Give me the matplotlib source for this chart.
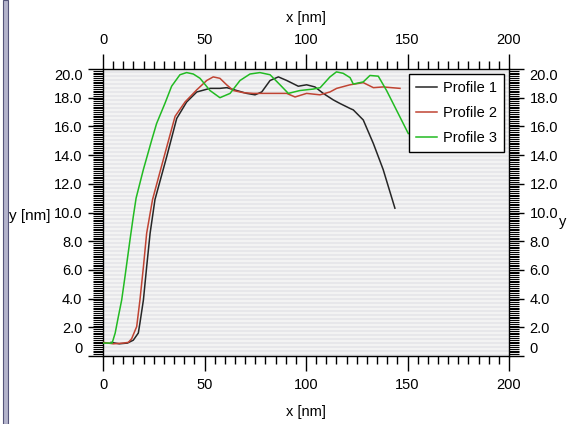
import matplotlib
matplotlib.use('Agg')
import matplotlib.pyplot as plt
import numpy as np
from matplotlib.ticker import MultipleLocator, FuncFormatter
from matplotlib.patches import Rectangle
from matplotlib.colors import ListedColormap

plt.rcParams['font.family'] = ['Liberation Sans', 'DejaVu Sans']

# Profile 1 (black)
p1_x = [4, 8, 12, 14.9, 17.4, 18.2, 19.9, 21.5, 23.2, 25.6, 31.4, 36.3, 41.2, 46.2,
        52.7, 57.6, 61, 65.9, 70.8, 74.9, 78.2, 82.3, 86.4, 90.5, 96.2, 100.3, 104.4,
        108.5, 113.4, 116.7, 121.7, 123.3, 128.2, 133.2, 138, 143.8]
p1_y = [0.95, 0.85, 0.9, 1.1, 1.6, 2.3, 3.9, 6.2, 8.55, 10.9, 13.9, 16.55, 17.7, 18.4,
        18.65, 18.65, 18.7, 18.5, 18.3, 18.2, 18.4, 19.2, 19.45, 19.2, 18.8, 18.9, 18.75,
        18.3, 17.85, 17.6, 17.25, 17.15, 16.45, 14.8, 13.0, 10.3]

# Profile 2 (red)
p2_x = [0, 5, 10, 12.5, 14.1, 16.6, 18.2, 19.9, 21.5, 24.4, 30.5, 35.5, 40.4, 46.2,
        51.1, 54.3, 57.6, 60.9, 64.2, 69.1, 74, 82.3, 90.5, 94.6, 100.3, 106.9, 111.8,
        115.1, 121.7, 128.2, 133.2, 138, 146.3]
p2_y = [0.95, 0.85, 0.9, 0.95, 1.2, 2.05, 3.9, 6.2, 8.55, 10.9, 14.1, 16.7, 17.7, 18.55,
        19.2, 19.45, 19.35, 18.9, 18.5, 18.35, 18.3, 18.3, 18.3, 18.05, 18.3, 18.2, 18.4,
        18.65, 18.9, 19.05, 18.7, 18.75, 18.65]

# Profile 3 (green)
p3_x = [0, 4.5, 6, 7.5, 9.2, 10.8, 13.3, 14.9, 16.3, 19.9, 24, 26.4, 30.5, 33.8, 37.9,
        41.2, 44.5, 47.8, 52.7, 57.6, 62.6, 67.5, 72.4, 77.3, 82.3, 87.2, 91.3, 97,
        103.5, 107, 111.8, 115, 118.3, 121.7, 123.3, 128.2, 131.5, 135.6, 139.7, 144.7, 150.4]
p3_y = [0.9, 0.9, 1.6, 2.7, 3.9, 5.5, 8.1, 9.7, 11.0, 13.0, 15.05, 16.2, 17.6, 18.8, 19.6,
        19.75, 19.65, 19.35, 18.5, 18.0, 18.3, 19.2, 19.65, 19.75, 19.6, 18.9, 18.3, 18.5,
        18.6, 18.7, 19.45, 19.8, 19.7, 19.4, 18.95, 19.1, 19.55, 19.5, 18.5, 17.1, 15.5]

labels = ['Profile 1', 'Profile 2', 'Profile 3']
colors = ['#262626', '#c04433', '#22bb22']

W, H = 571, 424
fig = plt.figure(figsize=(W / 100, H / 100), dpi=100)
fig.patch.set_facecolor('white')
ax = fig.add_axes([103 / W, 68 / H, 406 / W, 287 / H])

# striped background
n = 144
stripes = np.array([[i % 2] for i in range(n)])
ax.imshow(stripes, cmap=ListedColormap(['#f3f3f3', '#e7e7ea']), aspect='auto',
          extent=[0, 1, 0, 1], transform=ax.transAxes, interpolation='nearest', zorder=0)

for xs, ys, lab, c in zip([p1_x, p2_x, p3_x], [p1_y, p2_y, p3_y], labels, colors):
    ax.plot(xs, ys, color=c, lw=1.1, label=lab, zorder=3)

ax.set_xlim(0, 200)
ax.set_ylim(0, 20)

ax.xaxis.set_major_locator(MultipleLocator(50))
ax.xaxis.set_minor_locator(MultipleLocator(5))
ax.yaxis.set_major_locator(MultipleLocator(2))
ax.yaxis.set_minor_locator(MultipleLocator(0.125))
ax.yaxis.set_major_formatter(FuncFormatter(lambda v, p: '0' if abs(v) < 1e-9 else f'{v:.1f}'))

ax.tick_params(axis='x', which='both', direction='out', top=True, bottom=True,
               labeltop=True, labelbottom=True, labelsize=10.5, width=1, pad=5)
ax.tick_params(axis='x', which='major', length=10.8)
ax.tick_params(axis='x', which='minor', length=5.8)
ax.tick_params(axis='y', which='both', direction='out', left=True, right=True,
               labelleft=True, labelright=True, labelsize=10.5, width=1, pad=4)
ax.tick_params(axis='y', which='major', length=10.8)
ax.tick_params(axis='y', which='minor', length=7.2, width=0.8)

for s in ax.spines.values():
    s.set_linewidth(1.0)
    s.set_color('black')

fig.canvas.draw()
yt = ax.yaxis.get_major_ticks()
locs = ax.get_yticks()
for t, v in zip(yt, locs):
    if abs(v) < 1e-9:
        t.label1.set_va('bottom')
        t.label2.set_va('bottom')
    elif abs(v - 20) < 1e-9:
        t.label1.set_va('top')
        t.label2.set_va('top')

leg = ax.legend(loc='upper right', bbox_to_anchor=((504 - 103) / 406, (356 - 74) / 287),
                borderaxespad=0, fontsize=10.5, handlelength=1.4, handletextpad=0.4,
                labelspacing=0.75, borderpad=0.5, fancybox=False, framealpha=1,
                edgecolor='black')
leg.get_frame().set_linewidth(1.0)
leg.set_zorder(5)

fig.text(306 / W, 1 - 18 / H, 'x [nm]', ha='center', va='center', fontsize=10.5)
fig.text(306 / W, 1 - 412 / H, 'x [nm]', ha='center', va='center', fontsize=10.5)
fig.text(9 / W, 1 - 216 / H, 'y [nm]', ha='left', va='center', fontsize=11)
fig.text(563 / W, 1 - 222 / H, 'y', ha='center', va='center', fontsize=10.5)

fig.patches.append(Rectangle((3 / W, 0), 5 / W, 1, transform=fig.transFigure,
                             facecolor='#b4b4cc', edgecolor='#55557a', lw=0.8))

fig.savefig('out.png', dpi=100)
